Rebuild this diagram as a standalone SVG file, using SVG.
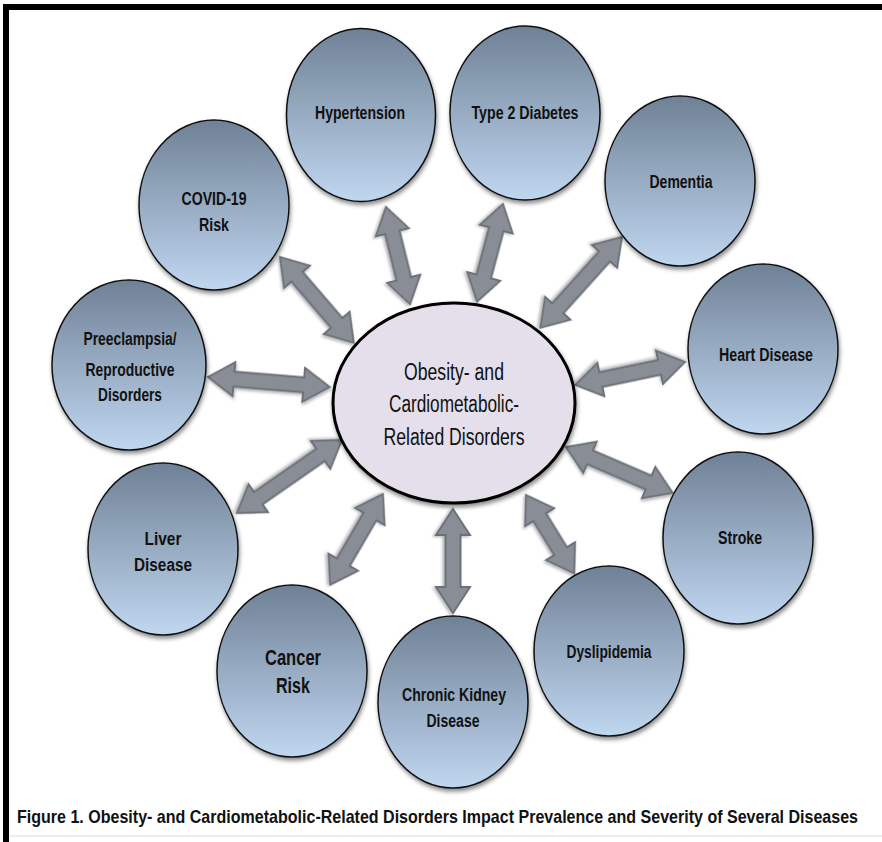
<svg xmlns="http://www.w3.org/2000/svg" width="882" height="842" viewBox="0 0 882 842">
<defs>
<linearGradient id="nodeGrad" x1="0" y1="0" x2="0" y2="1">
<stop offset="0" stop-color="#6f8196"/>
<stop offset="1" stop-color="#c0d7f0"/>
</linearGradient>
<filter id="shadow" x="-20%" y="-20%" width="140%" height="140%">
<feDropShadow dx="1" dy="3" stdDeviation="2" flood-color="#000" flood-opacity="0.45"/>
</filter>
<filter id="ashadow" x="-20%" y="-30%" width="140%" height="160%">
<feDropShadow dx="1" dy="2" stdDeviation="1.5" flood-color="#000" flood-opacity="0.3"/>
</filter>
</defs>
<style>
.node ellipse{fill:url(#nodeGrad);stroke:#111;stroke-width:1.5;filter:url(#shadow)}
.lbl{font-family:"Liberation Sans",Arial,sans-serif;font-weight:bold;font-size:18px;fill:#111;text-anchor:middle}
.big{font-size:22px}
.ctr{font-family:"Liberation Sans",Arial,sans-serif;font-size:23px;fill:#111;text-anchor:middle}
.arr{fill:#898d96;stroke:#6c7079;stroke-width:2;stroke-linejoin:miter;filter:url(#ashadow)}
.cap{font-family:"Liberation Sans",Arial,sans-serif;font-weight:bold;font-size:13.5px;fill:#111}
</style>
<rect width="882" height="842" fill="#fff"/>
<rect x="3" y="4" width="879" height="6" fill="#000"/>
<rect x="3" y="4" width="6" height="838" fill="#000"/>
<line x1="9" y1="836" x2="882" y2="836" stroke="#dcdcdc" stroke-width="1"/>

<g id="connectors">
<path class="arr" transform="translate(386,207) rotate(76.1)" d="M0,0 L26,-17 L26,-7.5 L74,-7.5 L74,-17 L100,0 L74,17 L74,7.5 L26,7.5 L26,17 Z"/>
<path class="arr" transform="translate(503,204) rotate(104.9)" d="M0,0 L26,-17 L26,-7.5 L75,-7.5 L75,-17 L101,0 L75,17 L75,7.5 L26,7.5 L26,17 Z"/>
<path class="arr" transform="translate(622,237) rotate(132)" d="M0,0 L26,-17 L26,-7.5 L96,-7.5 L96,-17 L122,0 L96,17 L96,7.5 L26,7.5 L26,17 Z"/>
<path class="arr" transform="translate(685,362) rotate(168.2)" d="M0,0 L26,-17 L26,-7.5 L86,-7.5 L86,-17 L112,0 L86,17 L86,7.5 L26,7.5 L26,17 Z"/>
<path class="arr" transform="translate(566,447) rotate(23.3)" d="M0,0 L26,-17 L26,-7.5 L90,-7.5 L90,-17 L116,0 L90,17 L90,7.5 L26,7.5 L26,17 Z"/>
<path class="arr" transform="translate(526,495) rotate(58.4)" d="M0,0 L26,-17 L26,-7.5 L66,-7.5 L66,-17 L92,0 L66,17 L66,7.5 L26,7.5 L26,17 Z"/>
<path class="arr" transform="translate(453,509) rotate(90)" d="M0,0 L26,-17 L26,-7.5 L78,-7.5 L78,-17 L104,0 L78,17 L78,7.5 L26,7.5 L26,17 Z"/>
<path class="arr" transform="translate(383,494) rotate(120.2)" d="M0,0 L26,-17 L26,-7.5 L79,-7.5 L79,-17 L105,0 L79,17 L79,7.5 L26,7.5 L26,17 Z"/>
<path class="arr" transform="translate(342,440) rotate(145.2)" d="M0,0 L26,-17 L26,-7.5 L102,-7.5 L102,-17 L128,0 L102,17 L102,7.5 L26,7.5 L26,17 Z"/>
<path class="arr" transform="translate(208,377) rotate(4.7)" d="M0,0 L26,-17 L26,-7.5 L96,-7.5 L96,-17 L122,0 L96,17 L96,7.5 L26,7.5 L26,17 Z"/>
<path class="arr" transform="translate(280,257) rotate(49.3)" d="M0,0 L26,-17 L26,-7.5 L87,-7.5 L87,-17 L113,0 L87,17 L87,7.5 L26,7.5 L26,17 Z"/>
</g>

<g id="center">
<ellipse cx="454" cy="403" rx="121" ry="100" fill="#e4dfeb" stroke="#000" stroke-width="3" filter="url(#shadow)"/>
<text class="ctr" x="454" y="380" textLength="100" lengthAdjust="spacingAndGlyphs">Obesity- and</text>
<text class="ctr" x="454" y="412" textLength="130" lengthAdjust="spacingAndGlyphs">Cardiometabolic-</text>
<text class="ctr" x="454" y="445" textLength="141" lengthAdjust="spacingAndGlyphs">Related Disorders</text>
</g>

<g id="hypertension" class="node">
<ellipse cx="361" cy="115" rx="74.5" ry="86.5"/>
<text class="lbl" x="360" y="119" textLength="90" lengthAdjust="spacingAndGlyphs">Hypertension</text>
</g>
<g id="diabetes" class="node">
<ellipse cx="525" cy="113" rx="75" ry="87"/>
<text class="lbl" x="525" y="119" textLength="107" lengthAdjust="spacingAndGlyphs">Type 2 Diabetes</text>
</g>
<g id="dementia" class="node">
<ellipse cx="680" cy="181" rx="75" ry="85"/>
<text class="lbl" x="681" y="188" textLength="63" lengthAdjust="spacingAndGlyphs">Dementia</text>
</g>
<g id="heart" class="node">
<ellipse cx="763" cy="349" rx="75" ry="85"/>
<text class="lbl" x="766" y="361" textLength="94" lengthAdjust="spacingAndGlyphs">Heart Disease</text>
</g>
<g id="stroke" class="node">
<ellipse cx="738" cy="538" rx="75" ry="86"/>
<text class="lbl" x="740" y="544" textLength="44" lengthAdjust="spacingAndGlyphs">Stroke</text>
</g>
<g id="dyslipidemia" class="node">
<ellipse cx="609" cy="651" rx="75" ry="85"/>
<text class="lbl" x="609" y="658" textLength="85" lengthAdjust="spacingAndGlyphs">Dyslipidemia</text>
</g>
<g id="ckd" class="node">
<ellipse cx="453" cy="702" rx="75" ry="86"/>
<text class="lbl" x="454" y="701" textLength="104" lengthAdjust="spacingAndGlyphs">Chronic Kidney</text>
<text class="lbl" x="453" y="727" textLength="53" lengthAdjust="spacingAndGlyphs">Disease</text>
</g>
<g id="cancer" class="node">
<ellipse cx="292" cy="671" rx="75" ry="86"/>
<text class="lbl big" x="293" y="665" textLength="56" lengthAdjust="spacingAndGlyphs">Cancer</text>
<text class="lbl big" x="293" y="693" textLength="34" lengthAdjust="spacingAndGlyphs">Risk</text>
</g>
<g id="liver" class="node">
<ellipse cx="163" cy="549" rx="75" ry="86"/>
<text class="lbl" x="163" y="545" textLength="37" lengthAdjust="spacingAndGlyphs">Liver</text>
<text class="lbl" x="163" y="571" textLength="58" lengthAdjust="spacingAndGlyphs">Disease</text>
</g>
<g id="preeclampsia" class="node">
<ellipse cx="129" cy="365" rx="77" ry="85"/>
<text class="lbl" x="130" y="345" textLength="93" lengthAdjust="spacingAndGlyphs">Preeclampsia/</text>
<text class="lbl" x="130" y="376" textLength="89" lengthAdjust="spacingAndGlyphs">Reproductive</text>
<text class="lbl" x="130" y="401" textLength="64" lengthAdjust="spacingAndGlyphs">Disorders</text>
</g>
<g id="covid" class="node">
<ellipse cx="214" cy="205" rx="75" ry="85"/>
<text class="lbl" x="214" y="205" textLength="65" lengthAdjust="spacingAndGlyphs">COVID-19</text>
<text class="lbl" x="214" y="231" textLength="30" lengthAdjust="spacingAndGlyphs">Risk</text>
</g>

<text class="cap" transform="scale(1,1.4)" x="17" y="588" textLength="841" lengthAdjust="spacingAndGlyphs">Figure 1. Obesity- and Cardiometabolic-Related Disorders Impact Prevalence and Severity of Several Diseases</text>
</svg>
